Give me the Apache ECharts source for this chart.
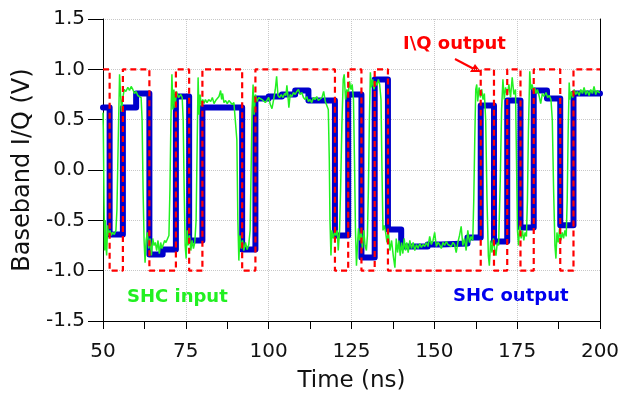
<!DOCTYPE html>
<html>
<head>
<meta charset="utf-8">
<script src="https://cdn.jsdelivr.net/npm/echarts@6/dist/echarts.min.js"></script>
<style>
html,body{margin:0;padding:0;background:#fff;}
#chart{width:633px;height:398px;}
</style>
</head>
<body>
<div id="chart"></div>
<script>
// I\Q output (ideal symbols): start time of each level and its value
const iqT = [50, 52, 56, 64, 72, 76, 80, 92, 96, 120, 124, 128, 132, 136, 164, 168, 172, 176, 180, 188, 192, 200];
const iqV = [1, -1, 1, -1, 1, -1, 1, -1, 1, -1, 1, -1, 1, -1, 1, -1, 1, -1, 1, -1, 1, 1];

// SHC output (sample-and-hold): start time of each held level and its value
const shcOutT = [50, 52, 56, 60, 64, 68, 72, 76, 80, 92, 96, 100, 104, 108, 112, 120, 124, 128, 132, 136, 140, 148, 152, 160, 164, 168, 172, 176, 180, 184, 188, 192, 200];
const shcOutV = [0.62, -0.64, 0.62, 0.76, -0.84, -0.79, 0.73, -0.70, 0.62, -0.79, 0.71, 0.73, 0.75, 0.79, 0.69, -0.65, 0.75, -0.87, 0.90, -0.59, -0.76, -0.74, -0.73, -0.67, 0.64, -0.71, 0.69, -0.57, 0.79, 0.71, -0.55, 0.76, 0.76];

// SHC input (noisy signal) sampled times and values
const shcInT = [
 50.0, 50.1, 50.3, 50.5, 50.7, 50.9, 51.1, 51.4, 51.7, 52.1, 52.5, 52.9, 53.4, 53.9, 54.2, 54.6, 55.0, 55.3, 55.6, 55.9,
 56.4, 56.9, 57.5, 58.0, 58.5, 59.0, 59.5, 60.0, 60.5, 61.0, 61.5, 61.8, 62.1, 62.4, 62.7, 63.0, 63.4, 63.8, 64.2, 64.6,
 65.0, 65.4, 65.8, 66.2, 66.6, 67.0, 67.4, 67.8, 68.2, 68.6, 69.0, 69.5, 69.9, 70.2, 70.5, 70.8, 71.1, 71.4, 71.7, 72.2,
 72.8, 73.5, 73.9, 74.2, 74.5, 74.8, 75.1, 75.4, 75.7, 76.1, 76.5, 76.9, 77.3, 77.7, 78.1, 78.4, 78.7, 79.0, 79.3, 79.7,
 80.1, 80.5, 80.9, 81.4, 81.9, 82.5, 83.0, 83.5, 84.0, 84.5, 85.0, 85.5, 85.8, 86.1, 86.5, 87.0, 87.5, 88.0, 88.5, 89.0,
 89.5, 90.0, 90.4, 90.7, 91.0, 91.3, 91.7, 92.1, 92.5, 93.0, 93.5, 94.0, 94.4, 94.7, 95.0, 95.3, 95.6, 96.0, 96.5, 97.0,
 98.0, 99.0, 99.5, 100.0, 100.5, 101.0, 101.5, 102.0, 102.4, 102.8, 103.3, 103.8, 104.3, 104.8, 105.2, 105.5, 105.8, 106.1, 106.5, 107.0,
 107.5, 108.0, 108.5, 109.0, 109.5, 110.0, 110.5, 111.0, 111.5, 112.0, 112.5, 113.0, 113.5, 114.0, 114.5, 115.0, 115.5, 116.1, 116.6, 117.1,
 117.6, 118.0, 118.3, 118.5, 118.8, 119.1, 119.5, 119.9, 120.3, 120.7, 121.0, 121.4, 121.7, 122.1, 122.5, 122.8, 123.2, 123.6, 124.0, 124.4,
 124.8, 125.2, 125.6, 125.9, 126.2, 126.5, 126.8, 127.1, 127.5, 127.9, 128.3, 128.7, 129.1, 129.5, 129.8, 130.1, 130.4, 130.7, 131.0, 131.4,
 131.8, 132.2, 132.7, 133.1, 133.5, 133.9, 134.2, 134.5, 134.9, 135.3, 135.7, 136.1, 136.6, 137.1, 137.6, 138.1, 138.5, 138.9, 139.3, 139.7,
 140.1, 140.5, 140.9, 141.3, 141.7, 142.1, 142.6, 143.1, 143.6, 144.1, 144.6, 145.1, 145.6, 146.1, 146.6, 147.1, 147.6, 148.1, 148.6, 149.1,
 149.6, 150.1, 150.6, 151.1, 151.6, 152.1, 152.6, 153.1, 153.6, 154.1, 154.6, 155.1, 155.6, 156.1, 156.6, 157.1, 157.6, 158.1, 158.6, 159.1,
 159.6, 160.1, 160.6, 161.1, 161.6, 161.9, 162.2, 162.5, 162.8, 163.1, 163.5, 163.9, 164.3, 164.7, 165.1, 165.5, 165.9, 166.3, 166.6, 167.0,
 167.4, 167.8, 168.2, 168.6, 169.0, 169.4, 169.9, 170.3, 170.7, 171.1, 171.5, 172.0, 172.5, 173.0, 173.5, 174.0, 174.5, 174.8, 175.1, 175.4,
 175.8, 176.2, 176.6, 177.0, 177.4, 177.8, 178.1, 178.4, 178.8, 179.1, 179.5, 179.9, 180.3, 180.7, 181.1, 181.6, 182.1, 182.6, 183.1, 183.7,
 184.2, 184.7, 185.2, 185.6, 186.0, 186.4, 186.7, 187.0, 187.4, 187.8, 188.2, 188.6, 189.0, 189.4, 189.8, 190.1, 190.4, 190.7, 191.0, 191.4,
 191.8, 192.2, 192.7, 193.2, 193.7, 194.2, 194.7, 195.2, 195.7, 196.2, 196.7, 197.2, 197.7, 198.2, 198.7, 199.2, 199.7, 200.0
];
const shcInV = [
 0.57, 0.40, -0.30, -0.80, -0.50, -0.75, -0.85, -0.55, -0.65, -0.60, -0.65, -0.62, -0.64, -0.60, -0.40, 0.30, 0.95, 0.75, 0.58, 0.70,
 0.80, 0.78, 0.82, 0.79, 0.83, 0.80, 0.76, 0.78, 0.74, 0.75, 0.72, 0.50, -0.20, -0.70, -0.92, -0.70, -0.62, -0.78, -0.68, -0.85,
 -0.68, -0.75, -0.72, -0.80, -0.70, -0.83, -0.72, -0.78, -0.74, -0.70, -0.72, -0.68, -0.65, -0.20, 0.50, 0.95, 0.60, 0.80, 0.62, 0.78,
 0.72, 0.75, 0.72, 0.50, -0.20, -0.75, -0.88, -0.60, -0.75, -0.65, -0.80, -0.70, -0.78, -0.72, -0.50, 0.20, 0.92, 0.55, 0.75, 0.64,
 0.70, 0.66, 0.70, 0.67, 0.70, 0.68, 0.72, 0.66, 0.69, 0.70, 0.73, 0.79, 0.70, 0.76, 0.67, 0.69, 0.66, 0.69, 0.68, 0.65,
 0.67, 0.66, 0.30, -0.50, -0.90, -0.65, -0.78, -0.70, -0.80, -0.72, -0.79, -0.74, -0.60, 0.00, 0.60, 0.85, 0.55, 0.75, 0.68, 0.72,
 0.70, 0.67, 0.66, 0.72, 0.65, 0.61, 0.70, 0.80, 0.93, 0.74, 0.72, 0.75, 0.72, 0.76, 0.74, 0.84, 0.74, 0.62, 0.75, 0.73,
 0.77, 0.75, 0.78, 0.80, 0.75, 0.77, 0.72, 0.70, 0.73, 0.68, 0.70, 0.67, 0.72, 0.70, 0.73, 0.69, 0.68, 0.72, 0.78, 0.68,
 0.67, 0.60, 0.10, -0.50, -0.85, -0.60, -0.68, -0.62, -0.65, -0.60, -0.80, -0.60, -0.20, 0.45, 0.90, 0.95, 0.70, 0.80, 0.75, 0.88,
 0.80, 0.85, 0.70, 0.10, -0.60, -0.95, -0.75, -0.58, -0.70, -0.62, -0.78, -0.60, -0.75, -0.80, -0.65, -0.20, 0.50, 0.97, 0.82, 0.90,
 0.80, 0.88, 0.84, 0.90, 0.85, 0.70, 0.00, -0.60, -0.55, -0.62, -0.72, -0.60, -0.80, -0.70, -0.85, -0.97, -0.68, -0.82, -0.70, -0.85,
 -0.72, -0.83, -0.68, -0.80, -0.72, -0.82, -0.70, -0.78, -0.72, -0.80, -0.74, -0.78, -0.73, -0.77, -0.74, -0.76, -0.72, -0.76, -0.66, -0.74,
 -0.70, -0.62, -0.76, -0.72, -0.74, -0.78, -0.72, -0.75, -0.71, -0.74, -0.73, -0.76, -0.72, -0.74, -0.82, -0.72, -0.65, -0.56, -0.75, -0.68,
 -0.80, -0.60, -0.72, -0.66, -0.70, -0.30, 0.30, 0.80, 0.85, 0.68, 0.82, 0.72, 0.80, 0.70, 0.76, 0.50, -0.30, -0.85, -0.95, -0.70,
 -0.82, -0.68, -0.78, -0.85, -0.72, -0.75, -0.10, 0.60, 0.90, 0.70, 0.82, 0.74, 0.85, 0.72, 0.92, 0.75, 0.80, 0.10, -0.60, -0.75,
 -0.55, -0.68, -0.60, -0.70, -0.62, -0.66, -0.30, 0.40, 0.98, 0.80, 0.85, 0.78, 0.82, 0.76, 0.80, 0.74, 0.66, 0.76, 0.73, 0.77,
 0.72, 0.74, 0.70, 0.50, -0.20, -0.75, -0.88, -0.62, -0.72, -0.58, -0.70, -0.62, -0.68, -0.60, -0.66, -0.30, 0.40, 0.87, 0.70, 0.78,
 0.72, 0.80, 0.75, 0.78, 0.74, 0.80, 0.76, 0.82, 0.75, 0.79, 0.74, 0.80, 0.76, 0.83, 0.75, 0.79, 0.77, 0.77
];

const yTicks = [-1.5, -1.0, -0.5, 0.0, 0.5, 1.0, 1.5];
const xTicks = [50, 75, 100, 125, 150, 175, 200];

const zip = (a, b) => a.map((x, i) => [x, b[i]]);
const FONT = '"DejaVu Sans", Verdana, sans-serif';

const chart = echarts.init(document.getElementById('chart'), null, {renderer: 'canvas'});
chart.setOption({
  animation: false,
  backgroundColor: '#ffffff',
  grid: {left: 103, right: 33, top: 19, bottom: 76, containLabel: false},
  xAxis: {
    type: 'value', min: xTicks[0], max: xTicks[xTicks.length - 1], interval: 25,
    name: 'Time (ns)', nameLocation: 'middle', nameGap: 49,
    nameTextStyle: {fontFamily: FONT, fontSize: 23, color: '#111'},
    axisLine: {show: true, onZero: false, lineStyle: {color: '#000', width: 1}},
    axisTick: {show: true, length: 8, lineStyle: {color: '#000'}},
    minorTick: {show: true, splitNumber: 2, length: 8, lineStyle: {color: '#000'}},
    axisLabel: {fontFamily: FONT, fontSize: 20, color: '#111', margin: 21},
    splitLine: {show: true, lineStyle: {color: '#c8c8c8', type: 'dotted', width: 1}}
  },
  yAxis: [{
    type: 'value', min: yTicks[0], max: yTicks[yTicks.length - 1], interval: 0.5,
    name: 'Baseband I/Q (V)', nameLocation: 'middle', nameGap: 63,
    nameTextStyle: {fontFamily: FONT, fontSize: 24, color: '#111'},
    axisLine: {show: true, onZero: false, lineStyle: {color: '#000', width: 1}},
    axisTick: {show: true, length: 15, lineStyle: {color: '#000'}},
    axisLabel: {fontFamily: FONT, fontSize: 20, color: '#111', margin: 18,
      formatter: v => v.toFixed(1)},
    splitLine: {show: true, lineStyle: {color: '#c8c8c8', type: 'dotted', width: 1}}
  }, {
    type: 'value', position: 'right', min: yTicks[0], max: yTicks[yTicks.length - 1], interval: 0.5,
    axisLine: {show: true, onZero: false, lineStyle: {color: '#000', width: 1}},
    axisTick: {show: false}, axisLabel: {show: false}, splitLine: {show: false}
  }],
  series: [
    {
      name: 'SHC output', type: 'line', step: 'end', data: zip(shcOutT, shcOutV),
      showSymbol: false, z: 2,
      lineStyle: {color: '#0000cc', width: 6, join: 'round', cap: 'round'}
    },
    {
      name: 'SHC input', type: 'line', data: zip(shcInT, shcInV),
      showSymbol: false, z: 3,
      lineStyle: {color: '#22f022', width: 1.5}
    },
    {
      name: 'I\\Q output', type: 'line', step: 'end', data: zip(iqT, iqV),
      showSymbol: false, z: 4,
      lineStyle: {color: '#ff0000', width: 2.2, type: [6, 4]}
    }
  ],
  graphic: [
    {type: 'text', left: 403, top: 35, style: {text: 'I\\Q output', fill: '#ff0000', font: 'bold 18px ' + FONT}},
    {type: 'line', shape: {x1: 455, y1: 59, x2: 474, y2: 69}, style: {stroke: '#ff0000', lineWidth: 2}},
    {type: 'polygon', shape: {points: [[481, 72], [470, 72], [475, 64]]}, style: {fill: '#ff0000'}},
    {type: 'text', left: 127, top: 288, style: {text: 'SHC input', fill: '#22f022', font: 'bold 18px ' + FONT}},
    {type: 'text', left: 453, top: 287, style: {text: 'SHC output', fill: '#0000ee', font: 'bold 18px ' + FONT}}
  ]
});
</script>
</body>
</html>
